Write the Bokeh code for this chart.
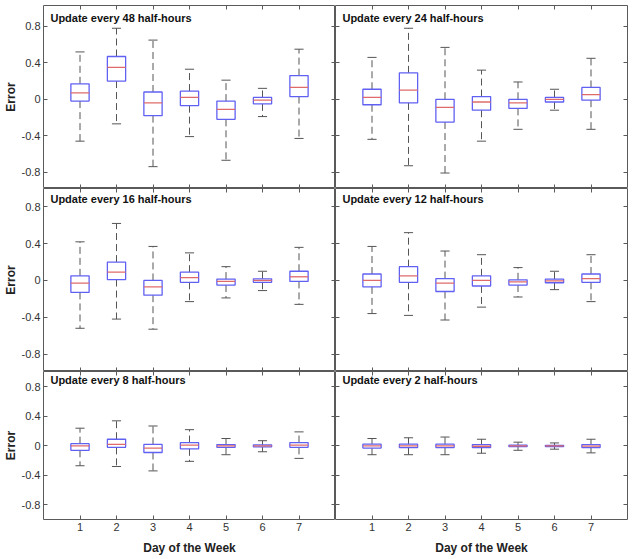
from bokeh.plotting import figure
from bokeh.layouts import gridplot
from bokeh.models import LinearAxis, FixedTicker, Label, Range1d
from bokeh.embed import file_html
from bokeh.resources import INLINE

# Forecast-error box plots by day of week, for six model update intervals
days = [1, 2, 3, 4, 5, 6, 7]
intervals = [48, 24, 16, 12, 8, 2]
y_ticks = [-0.8, -0.4, 0, 0.4, 0.8]
y_tick_labels = ["-0.8", "-0.4", "0", "0.4", "0.8"]

# one row per update interval, one column per day
upper = [
    [0.52, 0.78, 0.65, 0.33, 0.21, 0.12, 0.55],
    [0.46, 0.78, 0.57, 0.32, 0.19, 0.11, 0.45],
    [0.42, 0.62, 0.37, 0.30, 0.15, 0.10, 0.36],
    [0.37, 0.52, 0.32, 0.28, 0.14, 0.10, 0.28],
    [0.24, 0.34, 0.27, 0.22, 0.10, 0.07, 0.19],
    [0.10, 0.11, 0.12, 0.09, 0.05, 0.04, 0.09],
]
q3 = [
    [0.17, 0.47, 0.08, 0.09, -0.02, 0.02, 0.26],
    [0.11, 0.29, 0.00, 0.03, 0.00, 0.02, 0.13],
    [0.05, 0.20, 0.00, 0.09, 0.015, 0.018, 0.10],
    [0.07, 0.15, 0.02, 0.05, 0.007, 0.015, 0.07],
    [0.03, 0.09, 0.02, 0.045, 0.018, 0.014, 0.045],
    [0.023, 0.023, 0.023, 0.018, 0.009, 0.005, 0.018],
]
median = [
    [0.07, 0.35, -0.04, 0.02, -0.11, -0.01, 0.13],
    [0.02, 0.10, -0.09, -0.03, -0.04, 0.00, 0.05],
    [-0.03, 0.09, -0.07, 0.03, -0.01, 0.00, 0.04],
    [0.00, 0.05, -0.03, 0.00, -0.015, -0.004, 0.02],
    [0.00, 0.02, -0.03, 0.01, 0.00, 0.00, 0.01],
    [0.00, 0.00, 0.00, -0.005, 0.00, 0.00, -0.003],
]
q1 = [
    [-0.02, 0.20, -0.18, -0.07, -0.22, -0.05, 0.03],
    [-0.06, -0.04, -0.25, -0.12, -0.10, -0.03, -0.01],
    [-0.13, 0.01, -0.16, -0.02, -0.05, -0.02, -0.01],
    [-0.07, -0.02, -0.12, -0.06, -0.05, -0.025, -0.02],
    [-0.06, -0.02, -0.09, -0.04, -0.02, -0.014, -0.02],
    [-0.03, -0.023, -0.023, -0.023, -0.009, -0.009, -0.023],
]
lower = [
    [-0.46, -0.27, -0.74, -0.41, -0.67, -0.19, -0.43],
    [-0.44, -0.73, -0.81, -0.46, -0.33, -0.12, -0.33],
    [-0.52, -0.42, -0.53, -0.23, -0.19, -0.11, -0.26],
    [-0.36, -0.38, -0.43, -0.29, -0.18, -0.10, -0.23],
    [-0.27, -0.28, -0.34, -0.21, -0.12, -0.08, -0.17],
    [-0.12, -0.12, -0.12, -0.10, -0.06, -0.045, -0.095],
]

FONT = "Liberation Sans"
FRAME_COLOR = "#5a5a5a"
BOX_COLOR = "#6060f2"
MEDIAN_COLOR = "#e06a6a"
WHISKER_COLOR = "#555555"

row_yranges = [(-0.98, 1.03), (-0.99, 1.0), (-1.0, 1.01)]
row_heights = [183, 183, 148]
title_px = [12, 10.5, 8.5]
BOX_HALF = 0.25
CAP_HALF = 0.125


def style_axis(axis, ticker, labels=None, show_labels=False):
    axis.ticker = FixedTicker(ticks=ticker)
    axis.major_tick_in = 4
    axis.major_tick_out = 0
    axis.minor_tick_line_color = None
    axis.axis_line_color = None
    axis.major_tick_line_color = FRAME_COLOR
    if show_labels:
        axis.major_label_text_font = FONT
        axis.major_label_text_font_size = "11px"
        axis.major_label_text_color = "#333333"
        axis.major_label_standoff = 3
        if labels is not None:
            axis.major_label_overrides = dict(zip(ticker, labels))
    else:
        # tick marks only: labels are not painted and take almost no room
        axis.major_label_text_color = None
        axis.major_label_text_font_size = "1px"
        axis.major_label_standoff = 0


plots = []
for r in range(3):
    row = []
    for c in range(2):
        k = r * 2 + c
        y0, y1 = row_yranges[r]
        p = figure(
            frame_width=292,
            frame_height=row_heights[r],
            x_range=Range1d(0, 8),
            y_range=Range1d(y0, y1),
            output_backend="svg",
            toolbar_location=None,
            min_border_left=38 if c == 0 else 0,
            min_border_right=0 if c == 0 else 5,
            min_border_top=5 if r == 0 else 0,
            min_border_bottom=0,
            background_fill_color="white",
            border_fill_color="white",
        )
        p.grid.visible = False
        p.outline_line_color = FRAME_COLOR
        p.outline_line_width = 1

        style_axis(p.xaxis[0], days, [str(d) for d in days], show_labels=(r == 2))
        style_axis(p.yaxis[0], y_ticks, y_tick_labels, show_labels=(c == 0))
        if r == 2:
            p.xaxis[0].axis_label = "Day of the Week"
            p.xaxis[0].axis_label_text_font = FONT
            p.xaxis[0].axis_label_text_font_style = "bold"
            p.xaxis[0].axis_label_text_font_size = "12px"
            p.xaxis[0].axis_label_text_color = "#222222"
            p.xaxis[0].axis_label_standoff = 7
        if c == 0:
            p.yaxis[0].axis_label = "Error"
            p.yaxis[0].axis_label_text_font = FONT
            p.yaxis[0].axis_label_text_font_style = "bold"
            p.yaxis[0].axis_label_text_font_size = "12px"
            p.yaxis[0].axis_label_text_color = "#222222"
            p.yaxis[0].axis_label_standoff = 1

        top_ax = LinearAxis()
        style_axis(top_ax, days)
        p.add_layout(top_ax, "above")
        right_ax = LinearAxis()
        style_axis(right_ax, y_ticks)
        p.add_layout(right_ax, "right")

        left = [d - BOX_HALF for d in days]
        right = [d + BOX_HALF for d in days]
        cap_l = [d - CAP_HALF for d in days]
        cap_r = [d + CAP_HALF for d in days]

        # whiskers
        p.segment(x0=days, y0=q3[k], x1=days, y1=upper[k],
                  line_color=WHISKER_COLOR, line_width=1, line_dash="7 4")
        p.segment(x0=days, y0=q1[k], x1=days, y1=lower[k],
                  line_color=WHISKER_COLOR, line_width=1, line_dash="7 4")
        # whisker caps
        p.segment(x0=cap_l, y0=upper[k], x1=cap_r, y1=upper[k],
                  line_color=WHISKER_COLOR, line_width=1)
        p.segment(x0=cap_l, y0=lower[k], x1=cap_r, y1=lower[k],
                  line_color=WHISKER_COLOR, line_width=1)
        # boxes
        p.quad(left=left, right=right, bottom=q1[k], top=q3[k],
               fill_color=None, line_color=BOX_COLOR, line_width=1.3)
        # medians
        p.segment(x0=left, y0=median[k], x1=right, y1=median[k],
                  line_color=MEDIAN_COLOR, line_width=1.3)

        span = y1 - y0
        p.add_layout(Label(
            x=0.19, y=y1 - title_px[r] * span / row_heights[r],
            text=f"Update every {intervals[k]} half-hours",
            text_font=FONT, text_font_style="bold", text_font_size="11px",
            text_color="#111111", text_baseline="middle", text_align="left",
        ))
        row.append(p)
    plots.append(row)

grid = gridplot(plots, toolbar_location=None)

open("out.html", "w").write(file_html(grid, INLINE))
